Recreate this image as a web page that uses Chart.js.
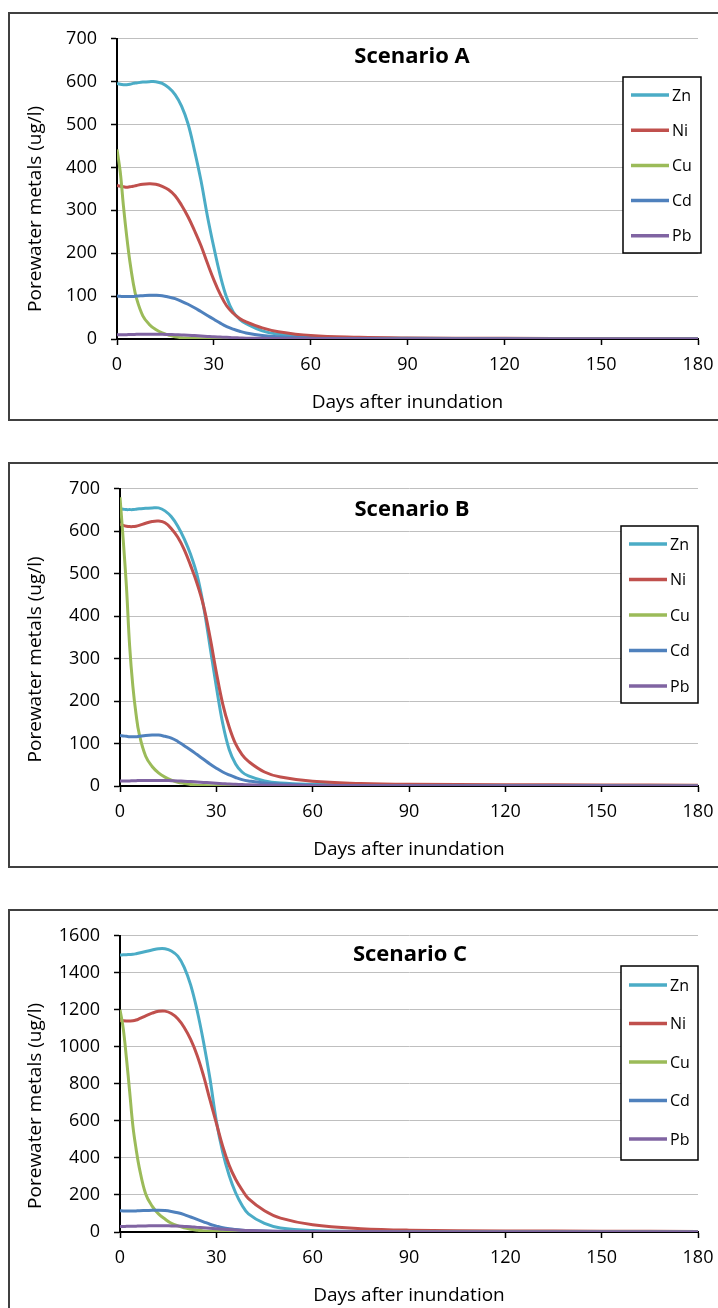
<!DOCTYPE html>
<html>
<head>
<meta charset="utf-8">
<script src="https://cdn.jsdelivr.net/npm/chart.js@4.4.0/dist/chart.umd.min.js"></script>
<style>
  body { margin: 0; background: #fff; width: 718px; height: 1308px; overflow: hidden; position: relative; }
  .frame { position: absolute; left: 8px; width: 730px; border: 2px solid #404040; box-sizing: border-box; background: #fff; }
  .frame canvas { display: block; }
</style>
</head>
<body>
<div class="frame" style="top:12px;height:409px"><canvas id="chartA" width="726" height="405"></canvas></div>
<div class="frame" style="top:462px;height:406px"><canvas id="chartB" width="726" height="402"></canvas></div>
<div class="frame" style="top:909px;height:405px"><canvas id="chartC" width="726" height="401"></canvas></div>
<script>
// sampled days after inundation
const days = [0, 1, 2, 3, 4, 5, 6, 8, 10, 12, 14, 16, 18, 20, 22, 24, 26, 28, 30, 32, 34, 36, 38, 40, 45, 50, 60, 75, 90, 120, 150, 180]
const metals = ['Zn', 'Ni', 'Cu', 'Cd', 'Pb']
const xTicks = [0, 30, 60, 90, 120, 150, 180]

// Scenario A (ug/l)
const znA = [596, 594, 593, 593, 594, 596, 597, 599, 600, 600, 596, 586, 570, 543, 502, 440, 370, 287, 214, 148, 96, 63, 46, 36, 19, 11, 5, 2.5, 1.5, 1, 0.6, 0.4]
const niA = [358, 356, 355, 354, 355, 356, 358, 361, 362, 361, 356, 348, 334, 312, 285, 253, 218, 177, 138, 104, 77, 60, 48, 40, 26, 17, 8, 4, 2.5, 1.5, 1, 0.8]
const cuA = [442, 390, 310, 240, 180, 132, 96, 54, 34, 22, 14, 9, 5, 3, 2, 1, 0.5, 0.3, 0.2, 0.1, 0, 0, 0, 0, 0, 0, 0, 0, 0, 0, 0, 0]
const cdA = [100, 99.5, 99, 99, 99, 99, 100, 101, 102, 102, 101, 98, 94, 88, 81, 73, 64, 55, 46, 37, 29, 23, 18, 14, 8, 5, 2, 1, 0.5, 0.3, 0.2, 0.1]
const pbA = [10, 10, 10, 10, 10.5, 10.5, 11, 11, 11, 11, 11, 10.5, 10, 9.5, 9, 8, 7, 6, 5, 4.5, 4, 3, 2.5, 2, 1.5, 1, 0.5, 0.3, 0.2, 0.1, 0.1, 0.1]

// Scenario B (ug/l)
const znB = [653, 652, 651, 651, 651, 652, 653, 654, 655, 655, 648, 634, 612, 582, 545, 497, 424, 330, 234, 147, 86, 52, 33, 24, 12, 7, 4, 2, 1.5, 1, 0.7, 0.5]
const niB = [617, 614, 612, 611, 611, 612, 614, 619, 623, 624, 620, 606, 586, 557, 519, 477, 425, 352, 268, 193, 139, 99, 74, 58, 33, 21, 11, 6, 4, 3, 2.5, 2]
const cuB = [680, 580, 470, 330, 235, 169, 122, 70, 46, 31, 21, 14, 9, 6, 3.5, 2, 1, 0.5, 0.3, 0.1, 0, 0, 0, 0, 0, 0, 0, 0, 0, 0, 0, 0]
const cdB = [119, 118, 117, 116, 116, 116, 117, 119, 120, 120, 117, 113, 105, 95, 85, 74, 63, 52, 42, 33, 26, 20, 15, 12, 7, 5, 2, 1, 0.6, 0.4, 0.3, 0.2]
const pbB = [12, 12, 12, 12, 12.5, 12.5, 13, 13, 13, 13, 13, 12.5, 12, 11, 10.5, 9.5, 8.5, 7.5, 6.5, 5.5, 4.5, 4, 3.5, 3, 2, 1.5, 0.8, 0.5, 0.3, 0.2, 0.1, 0.1]

// Scenario C (ug/l)
const znC = [1496, 1497, 1498, 1499, 1500, 1503, 1507, 1515, 1523, 1530, 1530, 1518, 1490, 1430, 1335, 1198, 1028, 830, 600, 430, 305, 212, 145, 98, 46, 22, 8, 4, 2.5, 1.5, 1, 0.8]
const niC = [1143, 1141, 1140, 1140, 1141, 1145, 1152, 1168, 1182, 1192, 1193, 1180, 1152, 1105, 1040, 955, 845, 715, 588, 462, 360, 285, 228, 180, 115, 75, 39, 18, 10, 6, 4, 3]
const cuC = [1200, 1100, 940, 760, 575, 450, 348, 205, 140, 98, 70, 47, 33, 23, 15, 10, 6, 4, 3, 2, 1.5, 1, 0.7, 0.5, 0.3, 0.2, 0, 0, 0, 0, 0, 0]
const cdC = [115, 114, 114, 113, 113, 114, 115, 116, 117, 118, 116, 111, 104, 94, 81, 68, 55, 42, 32, 23, 17, 13, 10, 8, 5, 3, 1, 0.5, 0.3, 0.2, 0.1, 0.1]
const pbC = [30, 30, 30.5, 31, 31, 31.5, 32, 33, 33.5, 34, 34, 33, 32, 30, 28, 25, 22.5, 20, 18, 15, 13, 11, 9, 7.5, 5, 3.5, 2, 1, 0.6, 0.4, 0.3, 0.2]

const colors = ['#4BACC6', '#C0504D', '#9BBB59', '#4F81BD', '#8064A2']
const FONT = '"Open Sans", "DejaVu Sans", sans-serif'

// heading, y title and boxed legend drawn inside the plot
const panelDecor = {
  id: 'panelDecor',
  afterDraw(chart, args, o) {
    const ctx = chart.ctx
    const a = chart.chartArea
    ctx.save()
    ctx.fillStyle = '#000'
    ctx.textAlign = 'center'
    ctx.textBaseline = 'middle'
    ctx.font = 'bold 22px ' + FONT
    ctx.fillText(o.heading, o.headX, o.headY)

    ctx.save()
    ctx.translate(26, (a.top + a.bottom) / 2 + o.yShift)
    ctx.rotate(-Math.PI / 2)
    ctx.font = '19px ' + FONT
    ctx.fillText('Porewater metals (ug/l)', 0, 0)
    ctx.restore()

    // legend
    ctx.fillStyle = '#fff'
    ctx.fillRect(o.lx, o.ly, o.lw, o.lh)
    ctx.strokeStyle = '#000'
    ctx.lineWidth = 1.5
    ctx.strokeRect(o.lx, o.ly, o.lw, o.lh)
    ctx.font = '16px ' + FONT
    ctx.textAlign = 'left'
    chart.data.datasets.forEach((ds, i) => {
      const y = o.ly + o.first + i * o.row
      ctx.strokeStyle = ds.borderColor
      ctx.lineWidth = 3.5
      ctx.beginPath()
      ctx.moveTo(o.lx + 8, y)
      ctx.lineTo(o.lx + 46, y)
      ctx.stroke()
      ctx.fillStyle = '#000'
      ctx.fillText(ds.label, o.lx + 49, y + 1)
    })
    ctx.restore()
  }
}

function makeChart(id, series, yMax, yStep, yWidth, padTop, decor) {
  const datasets = series.map((vals, i) => ({
    label: metals[i],
    data: days.map((d, k) => ({ x: d, y: vals[k] })),
    borderColor: colors[i],
    backgroundColor: colors[i],
    borderWidth: 3,
    pointRadius: 0,
    fill: false,
    tension: 0.4,
    order: metals.length - i
  }))
  return new Chart(document.getElementById(id), {
    type: 'line',
    data: { datasets },
    options: {
      responsive: false,
      animation: false,
      layout: { padding: { left: 0, top: padTop, right: 38, bottom: 0 } },
      plugins: {
        legend: { display: false },
        tooltip: { enabled: false },
        panelDecor: decor
      },
      scales: {
        x: {
          type: 'linear',
          min: 0,
          max: 180,
          afterBuildTicks: s => { s.ticks = xTicks.map(v => ({ value: v })) },
          afterFit: s => { s.height = 80 },
          grid: { drawOnChartArea: false, tickLength: 6, tickColor: '#000', tickWidth: 1.5 },
          border: { color: '#000', width: 2 },
          ticks: { color: '#000', font: { family: FONT, size: 18 }, padding: 9, maxRotation: 0 },
          title: { display: true, text: 'Days after inundation', color: '#000', font: { family: FONT, size: 19 }, padding: { top: 0, bottom: 5 } }
        },
        y: {
          min: 0,
          max: yMax,
          afterFit: s => { s.width = yWidth },
          grid: { color: '#BFBFBF', lineWidth: 1, tickLength: 6, tickColor: '#000', tickWidth: 1.5 },
          border: { color: '#000', width: 2 },
          ticks: { stepSize: yStep, color: '#000', font: { family: FONT, size: 18 }, padding: 14, callback: v => String(v) }
        }
      }
    },
    plugins: [panelDecor]
  })
}

makeChart('chartA', [znA, niA, cuA, cdA, pbA], 700, 100, 107, 21,
  { heading: 'Scenario A', headX: 402, headY: 43, yShift: 20, lx: 613, ly: 63, lw: 78, lh: 176, first: 18, row: 35.2 })
makeChart('chartB', [znB, niB, cuB, cdB, pbB], 700, 100, 110, 20,
  { heading: 'Scenario B', headX: 402, headY: 46, yShift: 22, lx: 611, ly: 62, lw: 77, lh: 177, first: 18, row: 35.5 })
makeChart('chartC', [znC, niC, cuC, cdC, pbC], 1600, 200, 110, 20,
  { heading: 'Scenario C', headX: 400, headY: 44, yShift: 22, lx: 611, ly: 55, lw: 77, lh: 194, first: 19, row: 38.5 })
</script>
</body>
</html>
